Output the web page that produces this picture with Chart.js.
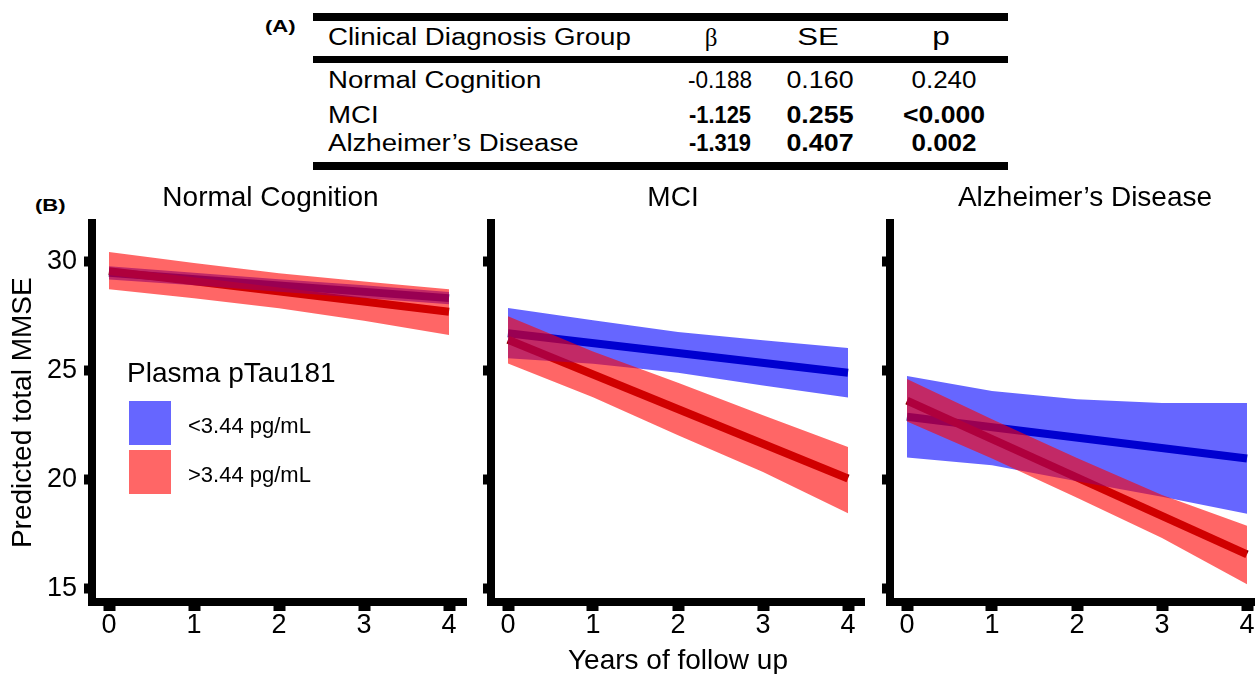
<!DOCTYPE html>
<html>
<head>
<meta charset="utf-8">
<script src="https://cdn.jsdelivr.net/npm/chart.js@4.4.1/dist/chart.umd.min.js"></script>
<style>
html,body{margin:0;padding:0;width:1255px;height:674px;overflow:hidden;background:#fff;font-family:'Liberation Sans',Arial,sans-serif;color:#000}
.abs{position:absolute;white-space:nowrap}
canvas{position:absolute}
.cell{font-size:23px;line-height:23px}
.b{font-weight:bold}
.rule{position:absolute;background:#000;left:313px;width:695px}
.sq{position:absolute;width:44px;height:46px;box-sizing:border-box;border:1px solid #fff}
</style>
</head>
<body>
<div id="table"></div>
<canvas id="c0" width="541" height="500" style="left:0px;top:180px"></canvas>
<canvas id="c1" width="384" height="500" style="left:481px;top:180px"></canvas>
<canvas id="c2" width="410" height="500" style="left:880px;top:180px"></canvas>
<div id="legend"></div>
<script>
// ---------- data ----------
const years = [0, 1, 2, 3, 4];
const lineYears = [0, 4];
const xTickVals = [0, 1, 2, 3, 4];
const yTickVals = [15, 20, 25, 30];
const panelTitles = ['Normal Cognition', 'MCI', 'Alzheimer\u2019s Disease'];
const legendTitle = 'Plasma pTau181';
const seriesNames = ['<3.44 pg/mL', '>3.44 pg/mL'];

// Normal Cognition
const ncLowLine   = [29.47, 28.31];
const ncHighLine  = [29.55, 27.68];
const ncLowUpper  = [29.77, 29.48, 29.18, 28.90, 28.59];
const ncLowLower  = [29.17, 28.90, 28.60, 28.32, 28.03];
const ncHighUpper = [30.43, 29.92, 29.45, 29.07, 28.72];
const ncHighLower = [28.72, 28.30, 27.85, 27.27, 26.62];
// MCI
const mciLowLine   = [26.70, 24.88];
const mciHighLine  = [26.40, 20.03];
const mciLowUpper  = [27.86, 27.29, 26.76, 26.38, 26.02];
const mciLowLower  = [25.55, 25.30, 24.88, 24.30, 23.75];
const mciHighUpper = [27.48, 25.86, 24.42, 22.93, 21.48];
const mciHighLower = [25.31, 23.76, 22.02, 20.33, 18.43];
// Alzheimer's Disease
const adLowLine   = [22.86, 20.95];
const adHighLine  = [23.60, 16.55];
const adLowUpper  = [24.74, 24.05, 23.67, 23.50, 23.50];
const adLowLower  = [20.99, 20.64, 19.90, 19.19, 18.41];
const adHighUpper = [24.60, 22.75, 20.97, 19.27, 17.86];
const adHighLower = [22.65, 20.95, 19.15, 17.30, 15.18];

// Table (A)
const tableHeader = ['Clinical Diagnosis Group', '\u03b2', 'SE', 'p'];
const groups = ['Normal Cognition', 'MCI', 'Alzheimer\u2019s Disease'];
const betas = ['-0.188', '-1.125', '-1.319'];
const ses = ['0.160', '0.255', '0.407'];
const pvals = ['0.240', '<0.000', '0.002'];
const boldRows = [false, true, true];

// ---------- table layout (positions / widths in px) ----------
const colCenters = [720, 820, 944];
const headCenters = [711, 818, 941];
const headWidths = [303, null, 42, 17];
const valWidths = [[64, 67, 65], [62, 67, 82], [62, 67, 65]];
const rowBaselines = [88, 123, 151];
const headBaseline = 45;

function addText(parent, text, opts) {
  const d = document.createElement('div');
  d.className = 'abs cell' + (opts.bold ? ' b' : '');
  d.textContent = text;
  if (opts.font) d.style.fontFamily = opts.font;
  if (opts.size) { d.style.fontSize = opts.size + 'px'; d.style.lineHeight = opts.size + 'px'; }
  d.style.top = opts.top + 'px';
  d.style.left = (opts.left != null ? opts.left : opts.center) + 'px';
  parent.appendChild(d);
  const w = d.offsetWidth;
  const s = opts.width ? opts.width / w : (opts.scale || 1);
  if (opts.center != null) {
    d.style.transform = 'translateX(-50%) scaleX(' + s + ')';
  } else {
    d.style.transformOrigin = 'left center';
    d.style.transform = 'scaleX(' + s + ')';
  }
  return d;
}

(function(){
  const t = document.getElementById('table');
  t.innerHTML = '<div class="rule" style="top:13px;height:8px"></div>' +
                '<div class="rule" style="top:56px;height:7px"></div>' +
                '<div class="rule" style="top:162px;height:8px"></div>';
  addText(t, '(A)', {left:265, top:18, size:17, bold:true, scale:1.3});
  addText(t, '(B)', {left:35, top:197, size:17, bold:true, scale:1.3});
  const off = 19.5;
  addText(t, tableHeader[0], {left:328, top:headBaseline - off, width:headWidths[0]});
  addText(t, tableHeader[1], {center:headCenters[0], top:headBaseline - off - 0.5, font:"'Liberation Serif', serif", size:25});
  addText(t, tableHeader[2], {center:headCenters[1], top:headBaseline - off, width:headWidths[2]});
  addText(t, tableHeader[3], {center:headCenters[2], top:headBaseline - 22.5, size:26, width:headWidths[3]});
  for (let i = 0; i < groups.length; i++) {
    const top = rowBaselines[i] - off;
    addText(t, groups[i], {left:328, top:top, scale:1.2});
    const vals = [betas[i], ses[i], pvals[i]];
    for (let j = 0; j < 3; j++) {
      addText(t, vals[j], {center:colCenters[j], top:top - 0.8, size:24, bold:boldRows[i], width:valWidths[i][j]});
    }
  }
})();

// ---------- legend ----------
(function(){
  const l = document.getElementById('legend');
  const esc = s => s.replace(/</g,'&lt;').replace(/>/g,'&gt;');
  let h = '';
  h += '<div class="abs" style="left:127px;top:358.5px;font-size:28px;line-height:28px">' + legendTitle + '</div>';
  h += '<div class="sq" style="left:128px;top:400px;background:rgba(0,0,255,0.6)"></div>';
  h += '<div class="sq" style="left:128px;top:449px;background:rgba(255,0,0,0.6)"></div>';
  h += '<div class="abs" style="left:188px;top:414.5px;font-size:22px;line-height:22px">' + esc(seriesNames[0]) + '</div>';
  h += '<div class="abs" style="left:188px;top:463.5px;font-size:22px;line-height:22px">' + esc(seriesNames[1]) + '</div>';
  l.innerHTML = h;
  l.style.position = 'absolute'; l.style.left = '0'; l.style.top = '0';
})();

// ---------- charts ----------
Chart.defaults.font.family = "'Liberation Sans', Arial, sans-serif";
Chart.defaults.color = '#000';

function pts(xs, ys) { return ys.map((y, i) => ({x: xs[i], y: y})); }

const panels = [
  {id:'c0', left:0,   titleCenter:270.5, lowLine:ncLowLine, highLine:ncHighLine, lowUpper:ncLowUpper, lowLower:ncLowLower, highUpper:ncHighUpper, highLower:ncHighLower, yWidth:92, padRight:75, yLabels:true, xTitle:false},
  {id:'c1', left:481, titleCenter:673,   lowLine:mciLowLine, highLine:mciHighLine, lowUpper:mciLowUpper, lowLower:mciLowLower, highUpper:mciHighUpper, highLower:mciHighLower, yWidth:10, padRight:0, yLabels:false, xTitle:true},
  {id:'c2', left:880, titleCenter:1085,  lowLine:adLowLine, highLine:adHighLine, lowUpper:adLowUpper, lowLower:adLowLower, highUpper:adHighUpper, highLower:adHighLower, yWidth:10, padRight:26, yLabels:false, xTitle:false}
];

panels.forEach((p, idx) => {
  const ds = [
    {data: pts(lineYears, p.lowLine), borderColor:'#00008B', borderWidth:8, fill:false, order:10},
    {data: pts(lineYears, p.highLine), borderColor:'#8B0000', borderWidth:8, fill:false, order:9},
    {data: pts(years, p.lowUpper), borderColor:'rgba(0,0,0,0)', borderWidth:0, backgroundColor:'rgba(0,0,255,0.6)', fill:'+1', order:8},
    {data: pts(years, p.lowLower), borderColor:'rgba(0,0,0,0)', borderWidth:0, fill:false, order:7},
    {data: pts(years, p.highUpper), borderColor:'rgba(0,0,0,0)', borderWidth:0, backgroundColor:'rgba(255,0,0,0.6)', fill:'+1', order:6},
    {data: pts(years, p.highLower), borderColor:'rgba(0,0,0,0)', borderWidth:0, fill:false, order:5}
  ];
  const titleShift = {
    id: 'titleShift',
    afterLayout(chart) {
      const tb = chart.titleBlock;
      if (!tb) return;
      const c = p.titleCenter - p.left;
      tb.left = c - 300; tb.right = c + 300; tb.width = 600;
    }
  };
  new Chart(document.getElementById(p.id), {
    type: 'line',
    data: {datasets: ds},
    plugins: [titleShift],
    options: {
      responsive: false,
      animation: false,
      devicePixelRatio: 1,
      layout: {padding: {left:0, right:p.padRight, top:0, bottom:0}},
      elements: {point: {radius:0, hoverRadius:0}, line: {tension:0, borderCapStyle:'butt'}},
      plugins: {
        legend: {display:false},
        tooltip: {enabled:false},
        title: {display:true, text:panelTitles[idx], color:'#000', font:{size:28, weight:'normal'}, padding:{top:1.5, bottom:8.3}}
      },
      scales: {
        x: {
          type:'linear', min:-0.2, max:4.2,
          afterBuildTicks: s => { s.ticks = xTickVals.map(v => ({value:v})); },
          afterFit: s => { s.height = 78; },
          border: {display:true, width:8, color:'#000'},
          grid: {drawOnChartArea:false, drawTicks:true, tickLength:9, tickWidth:12, tickColor:'#000'},
          ticks: {font:{size:27, lineHeight:1}, color:'#000', padding:1.5, maxRotation:0, autoSkip:false, callback: v => String(v)},
          title: {display:p.xTitle, text:'Years of follow up', color:'#000', font:{size:28}, padding:{top:0, bottom:2}}
        },
        y: {
          type:'linear', position:'left', min:14.36, max:31.74,
          afterBuildTicks: s => { s.ticks = yTickVals.map(v => ({value:v})); },
          afterFit: s => { s.width = p.yWidth; },
          border: {display:true, width:8, color:'#000'},
          grid: {drawOnChartArea:false, drawTicks:true, tickLength:8, tickWidth:10, tickColor:'#000'},
          ticks: {display:p.yLabels, font:{size:27}, color:'#000', padding:7, callback: v => String(v)},
          title: {display:p.yLabels, text:'Predicted total MMSE', color:'#000', font:{size:28}, padding:{top:6.3, bottom:0}}
        }
      }
    }
  });
});
</script>
</body>
</html>
